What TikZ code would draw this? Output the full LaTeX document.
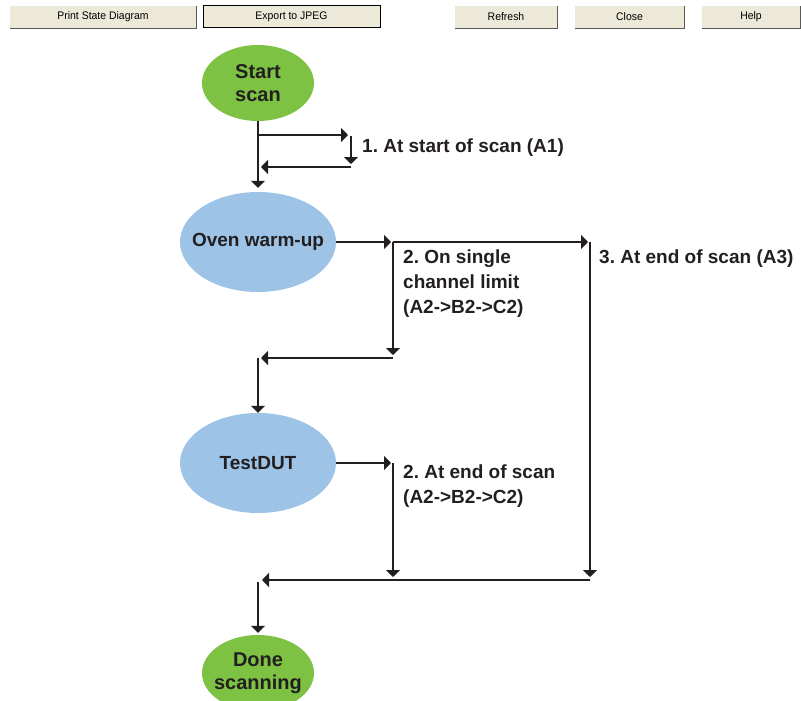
\documentclass[tikz,border=0pt]{standalone}
\usepackage{fontspec}
\setmainfont{Liberation Sans}
\newfontfamily\btnfont{Liberation Sans}[FakeStretch=0.95]
\usetikzlibrary{shapes.geometric,arrows.meta}
\definecolor{ink}{HTML}{231F20}
\definecolor{startgreen}{HTML}{7DC243}
\definecolor{stateblue}{HTML}{9DC3E6}
\definecolor{btnface}{HTML}{ECE9D8}
\frenchspacing
\begin{document}
\begin{tikzpicture}[x=1pt,y=-1pt,
  >={Triangle[width=14pt,length=7pt]},
  flow/.style={draw=ink,line width=2.7pt,->},
  term/.style={ellipse,fill=startgreen,minimum width=112pt,minimum height=76pt,inner xsep=-12pt,inner ysep=0pt,
    align=center,font=\fontsize{20}{23}\selectfont\bfseries,text=ink},
  state/.style={ellipse,fill=stateblue,minimum width=156pt,minimum height=100pt,inner sep=0pt,
    font=\fontsize{19}{23}\selectfont\bfseries,text=ink},
  note/.style={align=left,inner sep=0pt,font=\fontsize{19}{25}\selectfont\bfseries,text=ink},
  btn/.style={fill=btnface,minimum height=22pt,inner sep=0pt,font=\btnfont\fontsize{11}{12}\selectfont}]
\useasboundingbox (0,0) rectangle (801,701);
\clip (0,0) rectangle (801,701);

% toolbar
\node[btn,minimum width=186pt] (print) at (103,17) {Print State Diagram};
\node[btn,minimum width=177pt,draw=black,line width=1pt] (export) at (291.5,16.5) {Export to JPEG};
\node[btn,minimum width=102pt] (refresh) at (506,17) {Refresh};
\node[btn,minimum width=109pt] (close) at (629.5,17) {Close};
\node[btn,minimum width=98pt] (help) at (751,17) {Help};
\foreach \b in {print,refresh,close,help}{
  \draw[white,line width=1pt] (\b.south west) -- (\b.north west) -- (\b.north east);
  \draw[gray!70!black,line width=1.2pt] (\b.south west) -- (\b.south east) -- (\b.north east);
}

% states
\node[term] (start) at (258,83) {Start\\scan};
\node[state] (oven) at (258,242) {\makebox[0pt]{Oven warm-up}};
\node[state] (test) at (258,463) {\makebox[0pt]{TestDUT}};
\node[term] (done) at (258,673) {Done\\scanning};

% junction points
\coordinate (s1) at (258,135);
\coordinate (s1r) at (348,135);
\coordinate (d1t) at (351,136);
\coordinate (d1b) at (351,164);
\coordinate (r1) at (351,167);
\coordinate (r1l) at (261,167);
\coordinate (o1) at (391,242);
\coordinate (o2) at (393,242);
\coordinate (o3) at (588,242);
\coordinate (o4) at (590,242);
\coordinate (o2b) at (393,355);
\coordinate (m1) at (393,358);
\coordinate (m1l) at (261,358);
\coordinate (m2) at (258,358);
\coordinate (t1) at (391,463);
\coordinate (t2) at (393,463);
\coordinate (t2b) at (393,577);
\coordinate (o4b) at (590,577);
\coordinate (e1) at (590,580);
\coordinate (e1l) at (262,580);
\coordinate (e2) at (258,582);

% start -> oven with loop
\draw[flow,shorten >=4pt] (start.south) -- (oven.north);
\draw[flow] (s1) -- (s1r);
\draw[flow] (d1t) -- (d1b);
\draw[flow] (r1) -- (r1l);

% oven -> test / done
\draw[flow] (oven.east) -- (o1);
\draw[flow] (o2) -- (o3);
\draw[flow] (o2) -- (o2b);
\draw[flow] (o4) -- (o4b);
\draw[flow] (m1) -- (m1l);
\draw[flow] (m2) -- (test.north);

% test -> done
\draw[flow] (test.east) -- (t1);
\draw[flow] (t2) -- (t2b);
\draw[flow] (e1) -- (e1l);
\draw[flow,shorten >=2pt] (e2) -- (done.north);

% labels
\node[note,anchor=west] (lab1) at (362,148) {1. At start of scan (A1)};
\node[note,anchor=north west] (lab2) at (403,250) {2. On single\\channel limit\\(A2->B2->C2)};
\node[note,anchor=west] (lab3) at (599,259) {3. At end of scan (A3)};
\node[note,anchor=north west] (lab4) at (403,465) {2. At end of scan\\(A2->B2->C2)};
\end{tikzpicture}
\end{document}
